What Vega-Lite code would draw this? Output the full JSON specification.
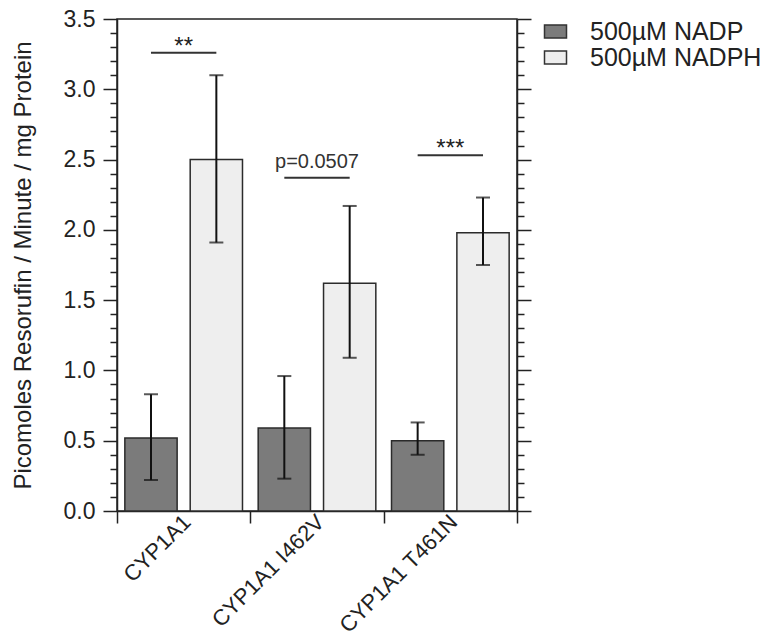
{
  "$schema": "https://vega.github.io/schema/vega-lite/v6.json",
  "autosize": {"type": "none"},
  "width": 400,
  "height": 492,
  "padding": {"left": 117, "top": 19, "right": 259, "bottom": 133},
  "background": "white",
  "config": {
    "font": "Liberation Sans",
    "view": {"stroke": "#222", "strokeWidth": 1.5},
    "axis": {"domainColor": "#222", "tickColor": "#222", "labelColor": "#222", "titleColor": "#222", "domainWidth": 1.5, "tickWidth": 1.5, "grid": false}
  },
  "datasets": {
    "bars": [
      {"group": "CYP1A1", "treatment": "500µM NADP", "mean": 0.52, "lo": 0.22, "hi": 0.83},
      {"group": "CYP1A1", "treatment": "500µM NADPH", "mean": 2.50, "lo": 1.91, "hi": 3.10},
      {"group": "CYP1A1 I462V", "treatment": "500µM NADP", "mean": 0.59, "lo": 0.23, "hi": 0.96},
      {"group": "CYP1A1 I462V", "treatment": "500µM NADPH", "mean": 1.62, "lo": 1.09, "hi": 2.17},
      {"group": "CYP1A1 T461N", "treatment": "500µM NADP", "mean": 0.50, "lo": 0.40, "hi": 0.63},
      {"group": "CYP1A1 T461N", "treatment": "500µM NADPH", "mean": 1.98, "lo": 1.75, "hi": 2.23}
    ],
    "sig": [
      {"group": "CYP1A1", "treatment": "500µM NADP", "y": 3.26, "label": "**", "kind": "star"},
      {"group": "CYP1A1", "treatment": "500µM NADPH", "y": 3.26, "label": "**", "kind": "star"},
      {"group": "CYP1A1 I462V", "treatment": "500µM NADP", "y": 2.37, "label": "p=0.0507", "kind": "p"},
      {"group": "CYP1A1 I462V", "treatment": "500µM NADPH", "y": 2.37, "label": "p=0.0507", "kind": "p"},
      {"group": "CYP1A1 T461N", "treatment": "500µM NADP", "y": 2.53, "label": "***", "kind": "star"},
      {"group": "CYP1A1 T461N", "treatment": "500µM NADPH", "y": 2.53, "label": "***", "kind": "star"}
    ]
  },
  "resolve": {"scale": {"y": "shared"}, "axis": {"y": "independent"}},
  "layer": [
    {
      "data": {"name": "bars"},
      "mark": {"type": "bar", "stroke": "#2b2b2b", "strokeWidth": 1.5},
      "encoding": {
        "x": {"field": "group", "type": "nominal", "sort": null,
              "scale": {"paddingInner": 0, "paddingOuter": 0},
              "axis": {"title": null, "labelAngle": -45, "labelFontSize": 22, "labelPadding": -12, "labelOffset": -4, "tickSize": 12, "tickBand": "extent", "labelAlign": "right", "labelBaseline": "top", "domain": true}},
        "xOffset": {"field": "treatment", "type": "nominal", "sort": null,
              "scale": {"paddingInner": 0.2, "paddingOuter": 0.12}},
        "y": {"field": "mean", "type": "quantitative",
              "scale": {"domain": [0, 3.5], "nice": false, "zero": true},
              "axis": {"orient": "left", "title": "Picomoles Resorufin / Minute / mg Protein", "titleFontSize": 24, "titleFontWeight": "normal", "titlePadding": 28,
                       "values": [0,0.1,0.2,0.3,0.4,0.5,0.6,0.7,0.8,0.9,1,1.1,1.2,1.3,1.4,1.5,1.6,1.7,1.8,1.9,2,2.1,2.2,2.3,2.4,2.5,2.6,2.7,2.8,2.9,3,3.1,3.2,3.3,3.4,3.5],
                       "labelExpr": "abs(datum.value*2 - round(datum.value*2)) < 0.001 ? format(datum.value, '.1f') : ''",
                       "labelOverlap": false, "labelFontSize": 23, "labelPadding": 8,
                       "tickSize": {"condition": {"test": "abs(datum.value*2 - round(datum.value*2)) < 0.001", "value": 14}, "value": 7}}},
        "color": {"field": "treatment", "type": "nominal", "sort": null,
              "scale": {"domain": ["500µM NADP", "500µM NADPH"], "range": ["#7b7b7b", "#eeeeee"]},
              "legend": {"title": null, "orient": "none", "legendX": 426, "legendY": 0,
                         "symbolType": "M-1,-0.6H1V0.6H-1Z", "symbolSize": 484, "symbolStrokeColor": "#333", "symbolStrokeWidth": 1.5,
                         "labelFontSize": 25, "labelLimit": 400, "labelColor": "#222", "labelOffset": 22, "rowPadding": 0}}
      }
    },
    {
      "data": {"name": "bars"},
      "mark": {"type": "rule", "color": "#111", "strokeWidth": 2},
      "encoding": {
        "x": {"field": "group", "type": "nominal", "sort": null},
        "xOffset": {"field": "treatment", "type": "nominal", "sort": null},
        "y": {"field": "lo", "type": "quantitative", "axis": null},
        "y2": {"field": "hi"}
      }
    },
    {
      "data": {"name": "bars"},
      "mark": {"type": "tick", "color": "#111", "thickness": 2, "size": 14},
      "encoding": {
        "x": {"field": "group", "type": "nominal", "sort": null},
        "xOffset": {"field": "treatment", "type": "nominal", "sort": null},
        "y": {"field": "lo", "type": "quantitative", "axis": null}
      }
    },
    {
      "data": {"name": "bars"},
      "mark": {"type": "tick", "color": "#111", "thickness": 2, "size": 14},
      "encoding": {
        "x": {"field": "group", "type": "nominal", "sort": null},
        "xOffset": {"field": "treatment", "type": "nominal", "sort": null},
        "y": {"field": "hi", "type": "quantitative", "axis": null}
      }
    },
    {
      "data": {"name": "sig"},
      "mark": {"type": "line", "color": "#333", "strokeWidth": 2},
      "encoding": {
        "x": {"field": "group", "type": "nominal", "sort": null},
        "xOffset": {"field": "treatment", "type": "nominal", "sort": null},
        "y": {"field": "y", "type": "quantitative", "axis": null},
        "detail": {"field": "group"}
      }
    },
    {
      "data": {"name": "sig"},
      "transform": [{"filter": "datum.kind == 'star' && datum.treatment == '500µM NADP'"}],
      "mark": {"type": "text", "fontSize": 24, "baseline": "alphabetic", "dy": 1, "color": "#222"},
      "encoding": {
        "x": {"field": "group", "type": "nominal", "sort": null},
        "y": {"field": "y", "type": "quantitative", "axis": null},
        "text": {"field": "label"}
      }
    },
    {
      "data": {"name": "sig"},
      "transform": [{"filter": "datum.kind == 'p' && datum.treatment == '500µM NADP'"}],
      "mark": {"type": "text", "fontSize": 20, "baseline": "alphabetic", "dy": -10, "color": "#333"},
      "encoding": {
        "x": {"field": "group", "type": "nominal", "sort": null},
        "y": {"field": "y", "type": "quantitative", "axis": null},
        "text": {"field": "label"}
      }
    },
    {
      "data": {"name": "bars"},
      "mark": {"type": "point", "opacity": 0},
      "encoding": {
        "y": {"field": "mean", "type": "quantitative",
              "axis": {"orient": "right", "title": null, "labels": false,
                       "values": [0,0.1,0.2,0.3,0.4,0.5,0.6,0.7,0.8,0.9,1,1.1,1.2,1.3,1.4,1.5,1.6,1.7,1.8,1.9,2,2.1,2.2,2.3,2.4,2.5,2.6,2.7,2.8,2.9,3,3.1,3.2,3.3,3.4,3.5],
                       "tickSize": {"condition": {"test": "abs(datum.value*2 - round(datum.value*2)) < 0.001", "value": 14}, "value": 7}}}
      }
    }
  ]
}
